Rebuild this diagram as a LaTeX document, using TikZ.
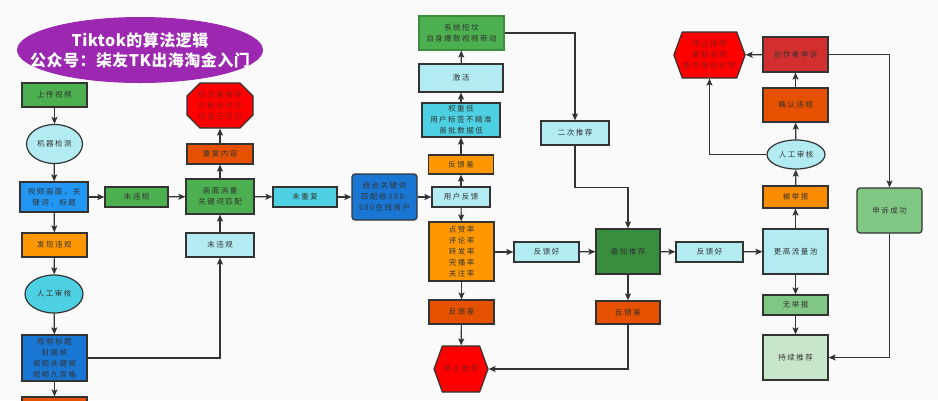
\documentclass[tikz,border=0pt]{standalone}
\usepackage{fontspec}
\usepackage{tikz}
\usetikzlibrary{shapes.geometric,
                shapes.symbols,
                arrows.meta,
                calc,
                positioning}
\newfontfamily\cjk[LetterSpace=20]{Noto Sans CJK SC}
\newfontfamily\cjktitle[LetterSpace=3]{Noto Sans CJK SC}
\definecolor{cline}{HTML}{333333}
\definecolor{cback}{HTML}{FAFAFA}
\definecolor{cgreen}{HTML}{4CAF50}
\definecolor{cdgreen}{HTML}{388E3C}
\definecolor{clgreen}{HTML}{81C784}
\definecolor{cpgreen}{HTML}{C8E6C9}
\definecolor{clblue}{HTML}{B2EBF2}
\definecolor{ccyan}{HTML}{4DD0E1}
\definecolor{cblue}{HTML}{2196F3}
\definecolor{cdblue}{HTML}{1976D2}
\definecolor{corange}{HTML}{FF9800}
\definecolor{cmorange}{HTML}{FB8C00}
\definecolor{cdorange}{HTML}{E65100}
\definecolor{cred}{HTML}{FF0000}
\definecolor{cdred}{HTML}{D32F2F}
\definecolor{credtext}{HTML}{8B1A1A}
\definecolor{cpurple}{HTML}{9C27B0}
\tikzstyle{box} = [rectangle, draw=cline, line width=1.2pt, minimum width=65pt, minimum height=20pt, align=center, inner sep=1pt, text=cline, font={\cjk\fontsize{7.5}{11}\selectfont}]
\tikzstyle{oval} = [box, ellipse]
\tikzstyle{octa} = [box, draw=none, text=credtext]
\tikzstyle{hexa} = [box, signal, signal to=west and east, signal pointer angle=140, fill=cred, text=credtext]
\tikzstyle{arrow} = [line width=1.2pt, draw=cline, ->, >={Stealth[length=7pt, width=6pt, inset=1.5pt]}]
\begin{document}
\begin{tikzpicture}[x=1pt, y=-1pt]
        \fill [cback] (0,0) rectangle (938,400);
        \useasboundingbox (0,0) rectangle (938,400);
        % title
        \fill [cpurple] (140,50) ellipse [x radius=123, y radius=33];
        \node (title) [align=center, text=white, inner sep=0pt, font={\cjktitle\bfseries\fontsize{16}{20}\selectfont}] at (140,50) {Tiktok的算法逻辑\\公众号：柒友TK出海淘金入门};
        % left column
        \node (upload) [box, fill=cgreen, minimum height=24pt] at (54.5,95) {上传视频};
        \node (detect) [oval, fill=clblue, minimum width=56pt, minimum height=39pt] at (54.5,144) {机器检测};
        \node (frame) [box, fill=cblue, minimum width=68pt, minimum height=30pt] at (54,197) {视频画面，关\\键词，标题};
        \node (found) [box, fill=corange, minimum height=24pt] at (54.5,245) {发现违规};
        \node (review) [oval, fill=ccyan, minimum width=58pt, minimum height=38pt] at (54,294) {人工审核};
        \node (cover) [box, fill=cdblue, minimum height=46pt] at (54.5,358) {视频标题\\封面帧\\视频关键帧\\视频九宫格};
        \node (cut) [box, fill=cdorange, minimum height=26pt] at (54.5,410) {};
        % check
        \node (pass) [box, fill=cgreen, minimum width=63pt] at (136.5,197) {未违规};
        \node (match) [box, fill=cgreen, minimum width=68pt, minimum height=35pt] at (220,196.5) {画面消重\\关键词匹配};
        \node (dup) [box, fill=cdorange, minimum width=66pt] at (220,154) {重复内容};
        \filldraw [cred, draw=cline, line width=1.2pt] (220,83) -- (240,83) -- (253,96) -- (253,115) -- (240,128) -- (200,128) -- (187,115) -- (187,96) -- (200,83) -- cycle;
        \node (limit) [octa, minimum width=66pt, minimum height=45pt] at (220,105.5) {低流量推荐\\仅粉丝可见\\仅自己可见};
        \node (passb) [box, fill=clblue, minimum width=68pt, minimum height=24pt] at (220,245) {未违规};
        \node (nodup) [box, fill=ccyan, minimum width=64pt] at (305,197) {未重复};
        \node (push) [box, fill=cdblue, rounded corners=3pt, minimum height=46pt] at (384.5,197) {结合关键词\\匹配给300-\\500在线用户};
        % first feedback
        \node (feedback) [box, fill=clblue, minimum width=58pt] at (461,197) {用户反馈};
        \node (rates) [box, fill=corange, minimum height=59pt] at (461.5,251.5) {点赞率\\评论率\\转发率\\完播率\\关注率};
        \node (bad) [box, fill=cdorange, minimum height=24pt] at (461.5,312) {反馈差};
        \node (stop) [hexa, minimum width=54pt, minimum height=46pt] at (461,369) {停止推荐};
        \node (badup) [box, fill=corange, minimum height=19pt] at (461,164.5) {反馈差};
        \node (weight) [box, fill=ccyan, minimum width=78pt, minimum height=34pt] at (461,120) {权重低\\用户标签不精准\\首批数据低};
        \node (activate) [box, fill=clblue, minimum width=84pt, minimum height=28pt] at (461,78) {激活};
        \node (dig) [box, fill=cgreen, draw=cgreen!80!black, minimum width=85pt, minimum height=34pt] at (461.5,33) {系统挖坟\\自身爆款视频带动};
        \node (second) [box, fill=clblue, minimum width=68pt, minimum height=24pt] at (575,133) {二次推荐};
        % stacking
        \node (good) [box, fill=clblue] at (546.5,252) {反馈好};
        \node (stack) [box, fill=cdgreen, minimum width=64pt, minimum height=45pt] at (628,251.5) {叠加推荐};
        \node (badb) [box, fill=cdorange, minimum width=64pt, minimum height=23pt] at (628,312.5) {反馈差};
        \node (goodb) [box, fill=clblue, minimum width=67pt] at (709.5,252) {反馈好};
        \node (pool) [box, fill=clblue, minimum height=45pt] at (795.5,251.5) {更高流量池};
        \node (noreport) [box, fill=clgreen] at (795.5,305) {无举报};
        \node (keep) [box, fill=cpgreen, minimum height=45pt] at (795.5,357.5) {持续推荐};
        \node (report) [box, fill=cmorange, minimum height=22pt] at (795.5,197) {被举报};
        \node (reviewb) [oval, fill=clblue, minimum width=58pt, minimum height=29pt] at (796,154.5) {人工审核};
        \node (confirm) [box, fill=cdorange, minimum height=34pt] at (795.5,105) {确认违规};
        \node (appeal) [box, fill=cdred, minimum height=35pt] at (795.5,54.5) {创作者申诉};
        \node (ban) [hexa, minimum width=65pt, minimum height=46pt] at (709.5,55) {停止推荐\\删除视频\\账号降权封禁};
        \node (success) [box, fill=clgreen, rounded corners=3pt, minimum height=45pt] at (889.5,210.5) {申诉成功};
        % connectors
        \draw [arrow] (upload) -- (detect);
        \draw [arrow] (detect) -- (frame);
        \draw [arrow] (frame) -- (found);
        \draw [arrow] (found) -- (review);
        \draw [arrow] (review) -- (cover);
        \draw [arrow] (cover) -- (cut);
        \draw [arrow] (cover.east) -| (passb.south);
        \draw [arrow] (frame) -- (pass);
        \draw [arrow] (pass) -- (match);
        \draw [arrow] (passb) -- (match);
        \draw [arrow] (match) -- (dup);
        \draw [arrow] (dup) -- (limit.south);
        \draw [arrow] (match) -- (nodup);
        \draw [arrow] (nodup) -- (push);
        \draw [arrow] (push) -- (feedback);
        \draw [arrow] (feedback) -- (rates);
        \draw [arrow] (rates) -- (bad);
        \draw [arrow] (bad) -- (stop);
        \draw [arrow] (feedback) -- (badup);
        \draw [arrow] (badup) -- (weight);
        \draw [arrow] (weight) -- (activate);
        \draw [arrow] (activate) -- (dig);
        \draw [arrow] (dig.east) -| (second.north);
        \draw [arrow] (second.south) -- ++(0,42) -| (stack.north);
        \draw [arrow] (rates.east |- good.west) -- (good);
        \draw [arrow] (good) -- (stack);
        \draw [arrow] (stack) -- (badb);
        \draw [arrow] (badb.south) |- (stop.east);
        \draw [arrow] (stack) -- (goodb);
        \draw [arrow] (goodb) -- (pool);
        \draw [arrow] (pool) -- (noreport);
        \draw [arrow] (noreport) -- (keep);
        \draw [arrow] (pool) -- (report);
        \draw [arrow] (report) -- (reviewb);
        \draw [arrow] (reviewb) -- (confirm);
        \draw [arrow] (confirm) -- (appeal);
        \draw [arrow] (appeal) -- (ban);
        \draw [arrow] (reviewb.west) -| (ban.south);
        \draw [arrow] (appeal.east) -| (success.north);
        \draw [arrow] (success.south) |- (keep.east);
\end{tikzpicture}
\end{document}
